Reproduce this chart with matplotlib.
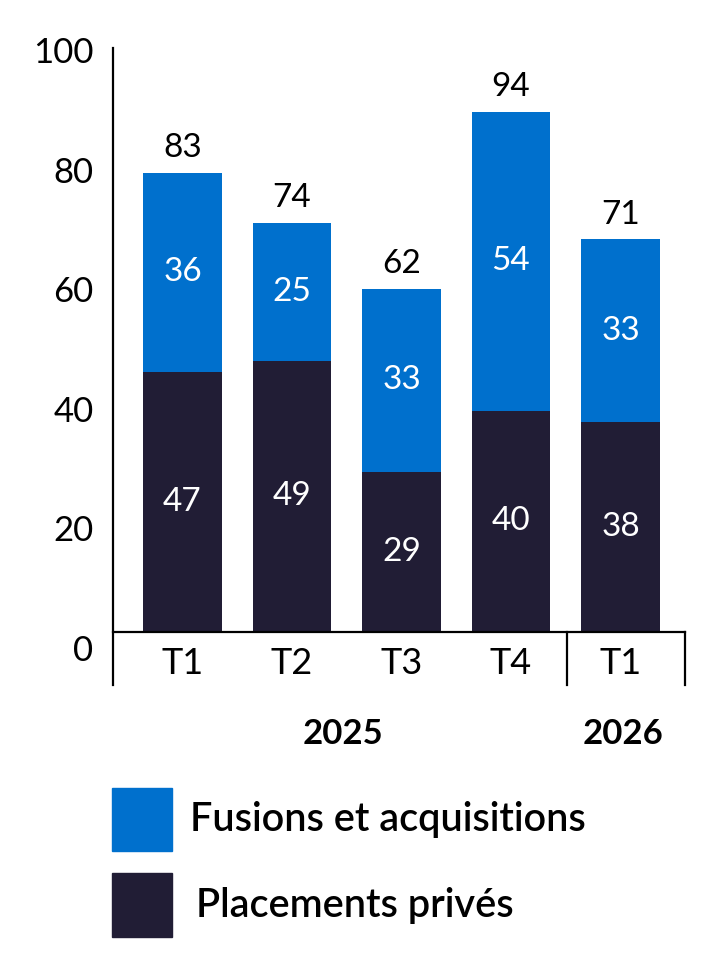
import matplotlib.pyplot as plt
from matplotlib.patches import Rectangle

# Data
quarters = ["T1", "T2", "T3", "T4", "T1"]
placements = [47, 49, 29, 40, 38]
fusions = [36, 25, 33, 54, 33]
totals = [83, 74, 62, 94, 71]
years = ["2025", "2026"]
ytick_labels = [0, 20, 40, 60, 80, 100]

BLUE = "#0070CD"
NAVY = "#211D35"

plt.rcParams['font.family'] = ['Lato', 'DejaVu Sans']

fig = plt.figure(figsize=(7.01, 9.61), dpi=100)
ax = fig.add_axes([113 / 701, 276 / 961, 572 / 701, 637 / 961])

x = list(range(len(quarters)))
ax.bar(x, placements, width=0.72, color=NAVY)
ax.bar(x, fusions, width=0.72, bottom=placements, color=BLUE)

# labels inside and above bars
for i in x:
    ax.text(i, placements[i] / 2, str(placements[i]), ha="center", va="center",
            color="white", fontsize=24)
    ax.text(i, placements[i] + fusions[i] / 2, str(fusions[i]), ha="center",
            va="center", color="white", fontsize=24)
    ax.annotate(str(totals[i]), (i, placements[i] + fusions[i]), xytext=(0, 7),
                textcoords="offset points", ha="center", va="bottom", fontsize=24)

ax.set_xlim(-0.635, 4.589)
ax.set_ylim(-9.6, 105.6)

# tick labels as placed in the original (slightly off the bar scale)
ax.set_yticks([-2.89 + 1.0814 * v for v in ytick_labels], [str(v) for v in ytick_labels])
ax.tick_params(axis="y", length=0, pad=14, labelsize=25)
ax.set_xticks([])

for s in ["top", "right", "bottom"]:
    ax.spines[s].set_visible(False)
ax.spines["left"].set_linewidth(1.6)

# baseline and group separators
ax.plot([-0.635, 4.589], [0, 0], color="black", lw=1.6, clip_on=False)
ax.plot([3.51, 3.51], [-9.6, 0], color="black", lw=1.6, clip_on=False)
ax.plot([4.589, 4.589], [-9.6, 0], color="black", lw=1.6, clip_on=False)

for i, q in enumerate(quarters):
    ax.text(i, -5.8, q, ha="center", va="center", fontsize=26)

ax.text(1.466, -18.5, years[0], ha="center", va="center", fontsize=25, fontweight="bold")
ax.text(4.02, -18.5, years[1], ha="center", va="center", fontsize=25, fontweight="bold")

# legend drawn by hand
fig.patches.append(Rectangle((112 / 701, 1 - 851 / 961), 60 / 701, 63 / 961,
                             transform=fig.transFigure, color=BLUE))
fig.patches.append(Rectangle((112 / 701, 1 - 937 / 961), 60 / 701, 64 / 961,
                             transform=fig.transFigure, color=NAVY))
fig.text(190 / 701, 1 - 820 / 961, "Fusions et acquisitions", ha="left", va="center",
         fontsize=28.5, fontweight="semibold")
fig.text(196 / 701, 1 - 905 / 961, "Placements privés", ha="left", va="center",
         fontsize=28.5, fontweight="semibold")

fig.savefig("out.png", dpi=100)
